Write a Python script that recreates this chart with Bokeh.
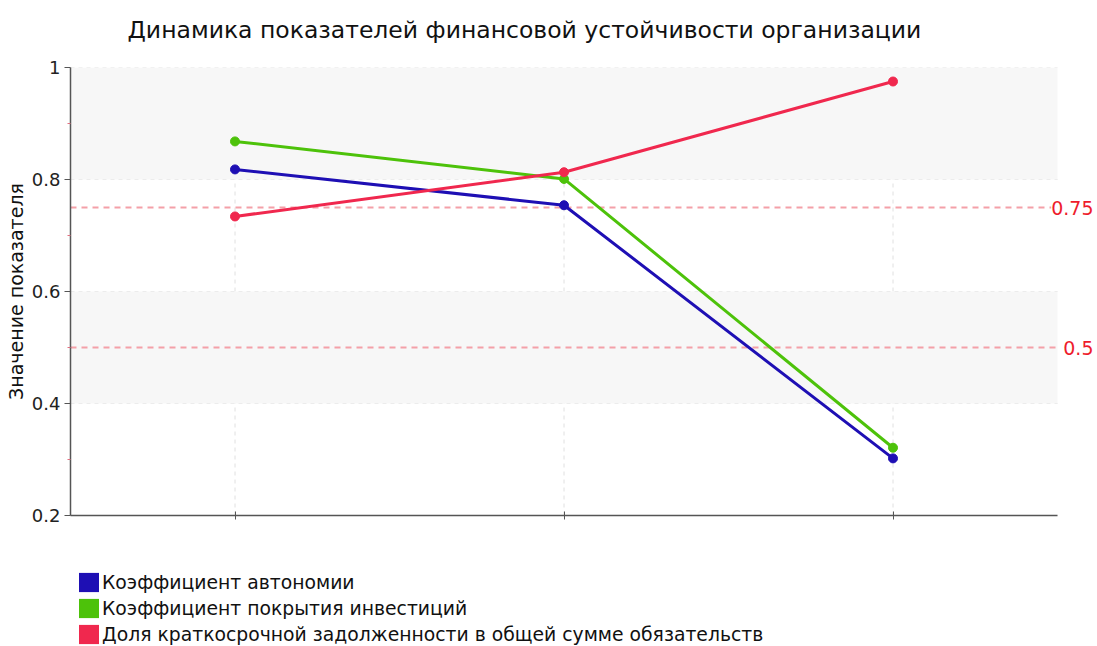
from bokeh.plotting import figure
from bokeh.layouts import column
from bokeh.models import (Label, BoxAnnotation, FixedTicker, Legend, LegendItem,
                          CustomJSTickFormatter, Range1d, ColumnDataSource)
from bokeh.embed import file_html
from bokeh.resources import INLINE

title = "Динамика показателей финансовой устойчивости организации"
y_label = "Значение показателя"
periods = [0, 1, 2]
names = ["Коэффициент автономии",
         "Коэффициент покрытия инвестиций",
         "Доля краткосрочной задолженности в общей сумме обязательств"]
autonomy = [0.818, 0.754, 0.302]
investment = [0.868, 0.801, 0.321]
short_debt = [0.734, 0.813, 0.975]
thresholds = [0.75, 0.5]
threshold_labels = ["0.75", "0.5"]
y_ticks = [0.2, 0.4, 0.6, 0.8, 1.0]
y_minor = [0.3, 0.5, 0.7, 0.9]
bands = [(0.8, 1.0), (0.4, 0.6)]
colors = ["#1e0fb4", "#4dc20a", "#f0284e"]

X_LO, X_HI = -0.5, 2.5       # visible category span
Y_LO, Y_HI = 0.2, 1.0
W = 1097
H_TITLE = 57
FRAME_L, AXIS_T, FRAME_B, AXIS_R = 70, 67, 515, 1057
PX_X = (AXIS_R - FRAME_L) / (X_HI - X_LO)
X_END = X_HI + (W - AXIS_R) / PX_X       # room on the right for threshold labels
TOP_PAD = AXIS_T - H_TITLE
BOTTOM_PAD = 25
H_MAIN = TOP_PAD + (FRAME_B - AXIS_T) + BOTTOM_PAD
H_LEG = 646 - H_TITLE - H_MAIN

# ---- title strip ----
t = figure(width=W, height=H_TITLE, output_backend="svg", toolbar_location=None,
           x_range=Range1d(0, 1), y_range=Range1d(0, 1),
           x_axis_location=None, y_axis_location=None,
           min_border_left=0, min_border_right=0, min_border_top=0, min_border_bottom=0)
t.outline_line_color = None
t.grid.visible = False
t.add_layout(Label(x=0, y=0, x_offset=57, y_offset=H_TITLE - 29.5, text=title,
                   text_align="left", text_baseline="alphabetic",
                   text_font="DejaVu Sans", text_font_size="23.5px",
                   text_color="#111111"))

# ---- main chart ----
p = figure(width=W, height=H_MAIN, output_backend="svg", toolbar_location=None,
           x_range=Range1d(X_LO, X_END), y_range=Range1d(Y_LO, Y_HI),
           min_border_left=FRAME_L, min_border_right=0, min_border_top=TOP_PAD,
           min_border_bottom=BOTTOM_PAD)
p.outline_line_color = None
p.xgrid.visible = False
p.ygrid.visible = False

for lo, hi in bands:
    p.add_layout(BoxAnnotation(left=X_LO, right=X_HI, bottom=lo, top=hi,
                               fill_color="#f7f7f7", fill_alpha=1.0,
                               line_color=None, level="underlay"))

# dashed grid lines, limited to the axis span
p.segment(x0=[X_LO] * len(y_ticks), x1=[X_HI] * len(y_ticks), y0=y_ticks, y1=y_ticks,
          line_color="#e0e0e0", line_dash="4 4", line_width=1, level="underlay")
p.segment(x0=periods, x1=periods, y0=[Y_LO] * len(periods), y1=[Y_HI] * len(periods),
          line_color="#e0e0e0", line_dash="4 4", line_width=1, level="underlay")

yax = p.yaxis[0]
yax.ticker = FixedTicker(ticks=y_ticks, minor_ticks=y_minor)
yax.formatter = CustomJSTickFormatter(code="return String(Math.round(tick*10)/10);")
yax.axis_label = y_label
yax.axis_label_text_font = "DejaVu Sans"
yax.axis_label_text_font_size = "19px"
yax.axis_label_text_font_style = "normal"
yax.axis_label_text_color = "#111111"
yax.axis_label_standoff = 2
yax.major_label_text_font = "DejaVu Sans"
yax.major_label_text_font_size = "18px"
yax.major_label_text_color = "#222222"
yax.major_label_standoff = 4
yax.axis_line_color = "#555555"
yax.axis_line_width = 1.5
yax.major_tick_line_color = "#555555"
yax.major_tick_in = 0
yax.major_tick_out = 6
yax.minor_tick_line_color = "#e07080"
yax.minor_tick_in = 0
yax.minor_tick_out = 3

xax = p.xaxis[0]
xax.ticker = FixedTicker(ticks=periods, minor_ticks=[])
xax.bounds = (X_LO, X_HI)
xax.major_label_overrides = {tk: "" for tk in periods}
xax.major_label_standoff = 0
xax.axis_line_color = "#555555"
xax.axis_line_width = 1.5
xax.major_tick_line_color = "#555555"
xax.major_tick_in = 4
xax.major_tick_out = 4

for th, lab in zip(thresholds, threshold_labels):
    p.segment(x0=[X_LO], x1=[X_HI], y0=[th], y1=[th], line_color="#f4a0a8",
              line_dash="6 5", line_width=2)
    p.add_layout(Label(x=X_HI, y=th, x_offset=36, text=lab, text_align="right",
                       text_baseline="middle", text_color="#ee1c2c",
                       text_font="DejaVu Sans", text_font_size="19px",
                       background_fill_color="white"))

series = [autonomy, investment, short_debt]
for vals, c in zip(series, colors):
    p.line(periods, vals, line_color=c, line_width=3)
    p.scatter(periods, vals, size=9, fill_color=c, line_color=c)

# ---- legend strip (frames in the column are aligned, so x counts from x=70) ----
q = figure(width=W, height=H_LEG, output_backend="svg", toolbar_location=None,
           x_range=Range1d(0, 1), y_range=Range1d(0, 1),
           x_axis_location=None, y_axis_location=None,
           min_border_left=0, min_border_right=0, min_border_top=0, min_border_bottom=0)
q.outline_line_color = None
q.grid.visible = False

nan = float("nan")
items = []
for name, c in zip(names, colors):
    r = q.quad(source=ColumnDataSource(dict(left=[nan], right=[nan], top=[nan], bottom=[nan])),
               left="left", right="right", top="top", bottom="bottom",
               fill_color=c, line_color=None)
    items.append(LegendItem(label=name, renderers=[r]))

legend = Legend(items=items, location=(6, 0), orientation="vertical",
                glyph_width=25, glyph_height=24, spacing=2, label_standoff=1,
                padding=0, margin=0, border_line_color=None, background_fill_alpha=0,
                label_text_font="DejaVu Sans", label_text_font_size="18.8px",
                label_text_color="#111111", label_height=24)
q.add_layout(legend, "center")

layout = column(t, p, q, spacing=0)
open("out.html", "w").write(file_html(layout, INLINE))
